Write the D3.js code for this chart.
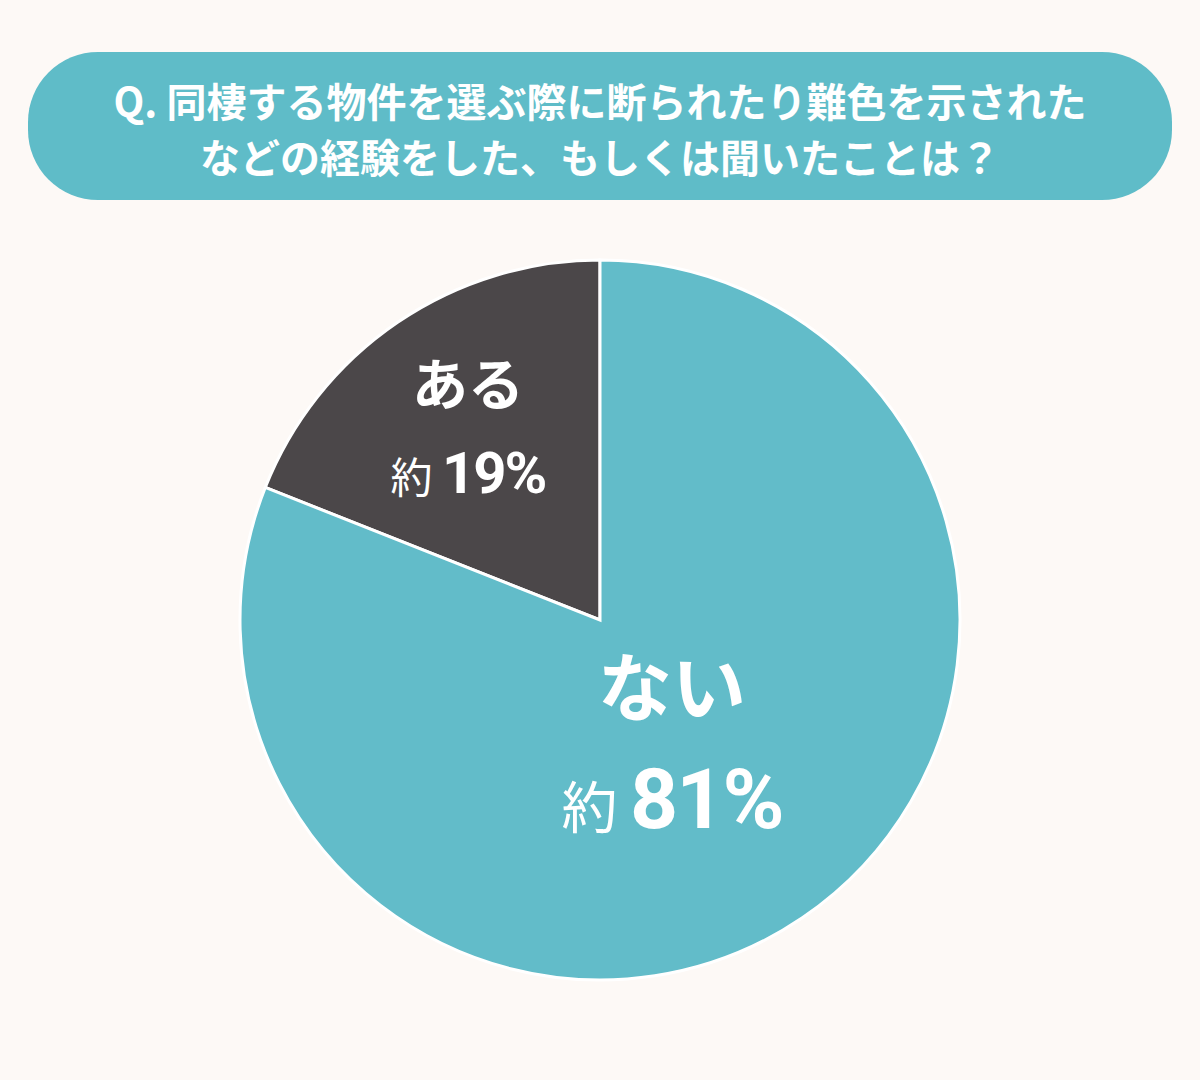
<!DOCTYPE html>
<html><head><meta charset="utf-8">
<script src="https://cdn.jsdelivr.net/npm/d3@7"></script>
<style>body{margin:0;background:#fdf9f6}</style>
</head><body>
<script>
var titleLines = ["Q. 同棲する物件を選ぶ際に断られたり難色を示された", "などの経験をした、もしくは聞いたことは？"];
var categories = ["ある", "ない"];
var values = [19, 81];
var colors = ["#4b4749", "#62bcc9"];

var width = 1200, height = 1080;
var svg = d3.select("body").append("svg").attr("width", width).attr("height", height)
  .style("background", "#fdf9f6");
var font = "'Noto Sans CJK JP', sans-serif";

svg.append("rect").attr("x", 28).attr("y", 52).attr("width", 1144).attr("height", 148)
  .attr("rx", 70).attr("fill", "#5fbcc8");
svg.selectAll(".title").data(titleLines).enter().append("text")
  .attr("x", 600).attr("y", function (d, i) { return 117 + i * 56; })
  .attr("text-anchor", "middle").attr("fill", "#fff").attr("font-family", font)
  .attr("font-weight", "bold").attr("font-size", 40).text(function (d) { return d; });

// pie: dark slice ends at the top, going counter-clockwise
var pie = d3.pie().sort(null).startAngle(-values[0] / 100 * 2 * Math.PI)
  .endAngle(2 * Math.PI - values[0] / 100 * 2 * Math.PI);
var arc = d3.arc().innerRadius(0).outerRadius(360);
var g = svg.append("g").attr("transform", "translate(600,620)");
g.selectAll("path").data(pie(values)).enter().append("path")
  .attr("d", arc).attr("fill", function (d, i) { return colors[i]; })
  .attr("stroke", "#fff").attr("stroke-width", 3);

// labels
var labels = [
  { x: 468, y: 405, sy: 493, nameSize: 56, pctSize: 58, preSize: 42 },
  { x: 672, y: 715, sy: 828, nameSize: 74, pctSize: 84, preSize: 56 }
];
labels.forEach(function (l, i) {
  svg.append("text").attr("x", l.x).attr("y", l.y).attr("text-anchor", "middle")
    .attr("fill", "#fff").attr("font-family", font).attr("font-weight", "bold")
    .attr("font-size", l.nameSize).text(categories[i]);
  var t = svg.append("text").attr("x", l.x).attr("y", l.sy).attr("text-anchor", "middle")
    .attr("fill", "#fff").attr("font-family", font).attr("font-weight", "bold");
  t.append("tspan").attr("font-size", l.preSize).attr("font-weight", "normal").text("約 ");
  t.append("tspan").attr("font-size", l.pctSize).attr("font-family", "'Roboto', sans-serif")
    .attr("letter-spacing", -2).text(values[i] + "%");
});
</script>
</body></html>
